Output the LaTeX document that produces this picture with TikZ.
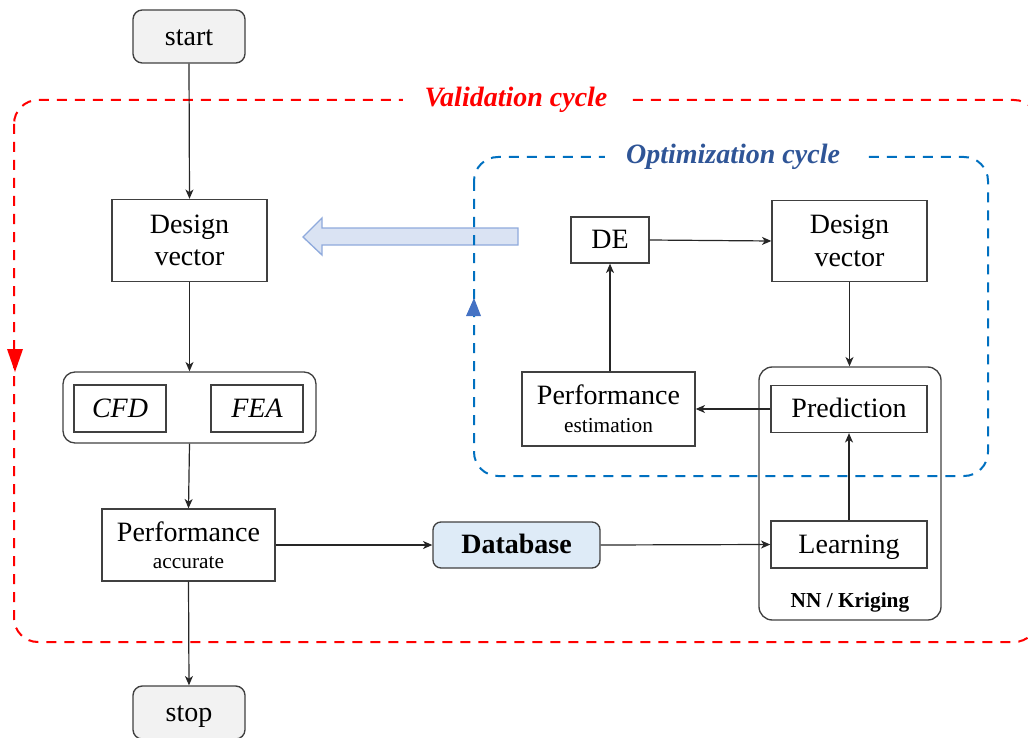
\documentclass[tikz,border=0pt]{standalone}
\usepackage{fontspec}
\setmainfont{Liberation Serif}
\usetikzlibrary{arrows.meta}
\definecolor{valred}{HTML}{FF0000}
\definecolor{optblue}{HTML}{0070C0}
\definecolor{opttitle}{HTML}{2F5597}
\definecolor{tri}{HTML}{4472C4}
\definecolor{greyfill}{HTML}{F2F2F2}
\definecolor{dbfill}{HTML}{DEEBF7}
\definecolor{bigfill}{HTML}{DAE3F3}
\definecolor{bigline}{HTML}{8FAADC}
\definecolor{boxline}{HTML}{404040}
\begin{document}
\begin{tikzpicture}[x=0.75pt,y=-0.75pt,
  box/.style={draw=boxline, line width=1pt, fill=white, align=center, inner sep=0pt,
    font=\fontsize{21}{24.5}\selectfont},
  one line/.style={text height=17pt, text depth=4pt},
  term/.style={box, one line, fill=greyfill, rounded corners=7pt, minimum width=84pt, minimum height=39.75pt},
  group/.style={draw=boxline, line width=1pt, inner sep=0pt},
  conn/.style={-{Stealth[length=7pt,width=6pt,inset=2pt]}, line width=0.9pt, draw=black!85},
  cycle line/.style={line width=1.5pt, dash pattern=on 7.5pt off 6pt, rounded corners=18pt},
  cycle title/.style={fill=white, inner xsep=16pt, inner ysep=1pt,
    font=\fontsize{21}{25}\selectfont\bfseries\itshape},
  small text/.style={font=\fontsize{16}{19}\selectfont}]
\useasboundingbox (0,0) rectangle (1028,738);
\clip (0,0) rectangle (1028,738);

% validation cycle
\draw[valred, cycle line] (14,100) rectangle (1038,642);
\node[cycle title, text=valred] (valt) at (516,100) {Validation cycle};
\fill[valred] (7,349) -- (23,349) -- (15,372) -- cycle;

% hollow block arrow
\draw[draw=bigline, fill=bigfill, line width=1pt]
  (518,228) -- (322,228) -- (322,218) -- (303,237) -- (322,255) -- (322,245) -- (518,245) -- cycle;

% optimization cycle
\draw[optblue, cycle line] (474,157) rectangle (988,476);
\node[cycle title, text=opttitle] (optt) at (733,157) {Optimization cycle};
\fill[tri] (474,298) -- (481,316) -- (466,316) -- cycle;

% nodes
\node[term] (start) at (189,36.5) {start};
\node[box, minimum width=116.25pt, minimum height=61.5pt] (dv1) at (189.5,240.5) {Design\\vector};
\node[group, rounded corners=9pt, minimum width=189.75pt, minimum height=53.25pt] (grp) at (189.5,407.5) {};
\node[box, one line, minimum width=69pt, minimum height=35.25pt, font=\fontsize{21}{25.5}\selectfont\itshape] (cfd) at (120,408.5) {CFD};
\node[box, one line, minimum width=69pt, minimum height=35.25pt, font=\fontsize{21}{25.5}\selectfont\itshape] (fea) at (257,408.5) {FEA};
\node[box, minimum width=129.75pt, minimum height=54pt] (perf) at (188.5,545) {Performance\\[-4.5pt]{\fontsize{16}{19}\selectfont accurate}};
\node[box, one line, fill=dbfill, rounded corners=6pt, minimum width=125.25pt, minimum height=34.5pt,
  font=\fontsize{21}{25.5}\selectfont\bfseries] (db) at (516.5,545) {Database};
\node[group, rounded corners=10pt, minimum width=136.5pt, minimum height=189.75pt] (nn) at (850,493.5) {};
\node[box, one line, minimum width=117pt, minimum height=35.25pt] (learn) at (849,544.5) {Learning};
\node[box, one line, minimum width=117pt, minimum height=35.25pt] (pred) at (849,409) {Prediction};
\node[small text, font=\fontsize{16}{19}\selectfont\bfseries] (nnlab) at (850,602) {NN / Kriging};
\node[box, minimum width=129.75pt, minimum height=55.5pt] (pe) at (608.5,409) {Performance\\[-3.5pt]{\fontsize{16}{19}\selectfont estimation}};
\node[box, one line, minimum width=58.5pt, minimum height=34.5pt] (de) at (610,240) {DE};
\node[box, minimum width=116.25pt, minimum height=60.75pt] (dv2) at (849.5,241) {Design\\vector};
\node[term] (stop) at (189,712.5) {stop};

% connectors
\draw[conn] (start.south) -- (dv1.north);
\draw[conn] (dv1.south) -- (grp.north);
\draw[conn] (grp.south) -- (perf.north);
\draw[conn] (perf.east) -- (db.west);
\draw[conn] (db.east) -- (learn.west);
\draw[conn] (learn.north) -- (pred.south);
\draw[conn] (pred.west) -- (pe.east);
\draw[conn] (de.south |- pe.north) -- (de.south);
\draw[conn] (de.east) -- (dv2.west);
\draw[conn] (dv2.south) -- (dv2.south |- nn.north);
\draw[conn] (perf.south) -- (stop.north);
\end{tikzpicture}
\end{document}
